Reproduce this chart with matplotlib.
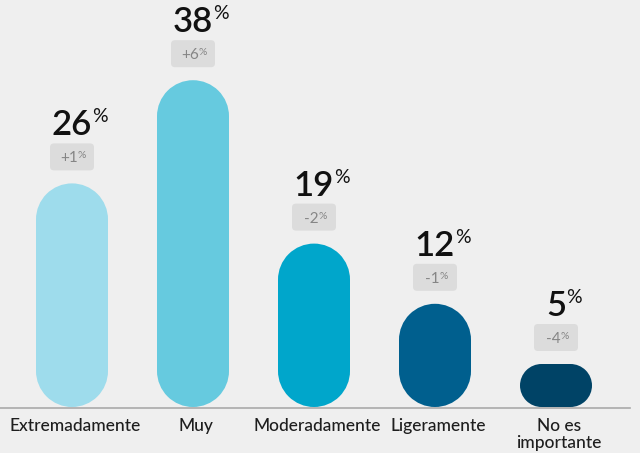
import matplotlib.pyplot as plt
from matplotlib.patches import FancyBboxPatch, Rectangle, Ellipse

plt.rcParams['font.family'] = ['Lato', 'DejaVu Sans']

categories = ["Extremadamente", "Muy", "Moderadamente", "Ligeramente", "No es\nimportante"]
values = [26, 38, 19, 12, 5]
changes = ["+1", "+6", "-2", "-1", "-4"]
colors = ["#9edcec", "#66cadf", "#00a6cb", "#005f8e", "#004366"]

bg = "#efefef"
px_x = 121.0   # pixels per category step
px_y = 8.6     # pixels per percentage point
bar_w = 72 / px_x

fig = plt.figure(figsize=(6.4, 4.53), dpi=100, facecolor=bg)
ax = fig.add_axes([0, 0, 1, 1], facecolor=bg)
ax.set_xlim(-72 / px_x, (640 - 72) / px_x)
ax.set_ylim(-46 / px_y, 407 / px_y)
ax.axis('off')

aspect = px_x / px_y


def pill(xc, w, h, color):
    # stadium shape: rectangle with semicircular ends (ends on the short side)
    w_px, h_px = w * px_x, h * px_y
    r_px = min(w_px, h_px) / 2
    rx, ry = r_px / px_x, r_px / px_y
    if h_px >= w_px:
        ax.add_patch(Rectangle((xc - w / 2, ry), w, h - 2 * ry, fc=color, ec='none', zorder=2))
        for yc in (ry, h - ry):
            ax.add_patch(Ellipse((xc, yc), 2 * rx, 2 * ry, fc=color, ec='none', zorder=2))
    else:
        ax.add_patch(Rectangle((xc - w / 2 + rx, 0), w - 2 * rx, h, fc=color, ec='none', zorder=2))
        for xe in (xc - w / 2 + rx, xc + w / 2 - rx):
            ax.add_patch(Ellipse((xe, ry), 2 * rx, 2 * ry, fc=color, ec='none', zorder=2))


for i, (v, c) in enumerate(zip(values, colors)):
    pill(i, bar_w, v, c)

    # value label with small percent sign
    num = ax.annotate(str(v), xy=(i, v), xytext=(0, 48), textcoords='offset pixels',
                      ha='center', va='baseline', fontsize=25, fontweight='semibold',
                      color='#111111')
    ax.annotate('%', xy=(1, 1), xycoords=num, xytext=(0, 1), textcoords='offset pixels',
                ha='left', va='top', fontsize=14, color='#111111')

    # change badge above the bar
    bw = 44 / px_x
    b_lo = v + 13 / px_y
    b_h = 27 / px_y
    box = FancyBboxPatch((i - bw / 2, b_lo), bw, b_h,
                         boxstyle="round,pad=0,rounding_size={}".format(4 / px_x),
                         mutation_aspect=aspect, fc='#dcdcdc', ec='none', zorder=2)
    ax.add_patch(box)
    ch = ax.annotate(changes[i], xy=(i, v), xytext=(-3, 21), textcoords='offset pixels',
                     ha='center', va='baseline', fontsize=11, color='#858585', zorder=3)
    ax.annotate('%', xy=(1, 1), xycoords=ch, xytext=(0, 0), textcoords='offset pixels',
                ha='left', va='top', fontsize=7.5, color='#858585', zorder=3)

    ax.text(i + 3 / px_x, -11 / px_y, categories[i], ha='center', va='top', fontsize=12.5,
            fontweight='medium', color='#1e1e1e', linespacing=1.05)

ax.axhline(-0.5 / px_y, xmin=0, xmax=630 / 640, color='#aaaaaa', lw=1.2, zorder=1)

fig.savefig("out.png", dpi=100, facecolor=bg)
